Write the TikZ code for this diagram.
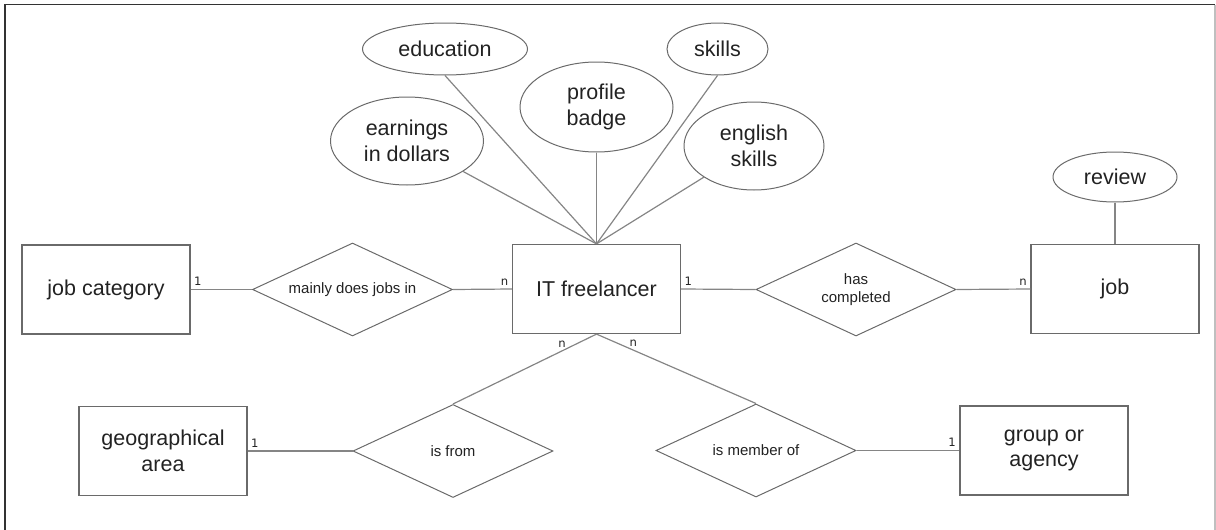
\documentclass[tikz,border=0pt]{standalone}
\usepackage{fontspec}
\setmainfont{Liberation Sans}
\newfontfamily\cardfont{DejaVu Sans}
\usetikzlibrary{shapes.geometric}
\definecolor{edge}{HTML}{6A6A6A}
\definecolor{wire}{HTML}{858585}
\definecolor{ink}{HTML}{222222}
\begin{document}
\begin{tikzpicture}[
  x=0.5pt, y=-0.5pt,
  entity/.style={draw=edge, line width=0.6pt, rectangle, minimum width=84pt, minimum height=44.5pt, align=center, text=ink, font=\fontsize{10.75}{12.9}\selectfont},
  relation/.style={draw=edge, line width=0.5pt, diamond, aspect=2.15, minimum width=100pt, minimum height=46.5pt, inner sep=1pt, align=center, text=ink, font=\fontsize{7.5}{9}\selectfont},
  attr/.style={draw=edge, line width=0.5pt, ellipse, inner sep=1pt, align=center, text=ink, font=\fontsize{10.75}{12.9}\selectfont},
  conn/.style={draw=wire, line width=0.6pt},
  card/.style={text=ink, inner sep=1.5pt, font=\cardfont\fontsize{5.8}{7}\selectfont}
]
\useasboundingbox (0,0) rectangle (1216,530);
\draw[line width=0.8pt, draw=black!80] (5,530) -- (5,4.5) -- (1215,4.5);
\draw[line width=0.6pt, draw=black!25] (1215,4.5) -- (1215,530);

\node[entity] (jobcat) at (106,289.5) {job category};
\node[entity] (free) at (596.5,289) {IT freelancer};
\node[entity] (job) at (1115,289) {job};
\node[entity] (geo) at (163,451) {geographical\\area};
\node[entity] (group) at (1044,450.5) {group or\\agency};

\node[relation] (mainly) at (352.5,289.5) {mainly does jobs in};
\node[relation] (hascomp) at (856,289.5) {has\\completed};
\node[relation] (isfrom) at (453,451) {is from};
\node[relation] (member) at (756,450.5) {is member of};

\node[attr, minimum width=82.5pt, minimum height=26pt] (edu) at (445,49) {education};
\node[attr, minimum width=50.5pt, minimum height=26pt] (skills) at (717.5,49) {skills};
\node[attr, minimum width=76.5pt, minimum height=45pt] (badge) at (596.5,107) {profile\\badge};
\node[attr, minimum width=76.5pt, minimum height=44pt] (earn) at (407,141) {earnings\\in dollars};
\node[attr, minimum width=70pt, minimum height=44pt] (english) at (754,146) {english\\skills};
\node[attr, minimum width=62pt, minimum height=25pt] (review) at (1115,177) {review};

\foreach \a in {edu.south, skills.south, badge.south, earn, english}
  \draw[conn] (\a) -- (free.north);
\draw[conn] (review.south) -- (job.north);

\draw[conn] (jobcat.east) -- node[card, pos=0, anchor=south west] {1} (mainly.west);
\draw[conn] (mainly.east) -- node[card, pos=1, anchor=south east] {n} (free.west);
\draw[conn] (free.east) -- node[card, pos=0, anchor=south west] {1} (hascomp.west);
\draw[conn] (hascomp.east) -- node[card, pos=1, anchor=south east] {n} (job.west);
\draw[conn] (geo.east) -- node[card, pos=0, anchor=south west] {1} (isfrom.west);
\draw[conn] (member.east) -- node[card, pos=1, anchor=south east] {1} (group.west);
\draw[conn] (free.south) -- node[card, pos=0.24, above] {n} (isfrom.north);
\draw[conn] (free.south) -- node[card, pos=0.23, above] {n} (member.north);
\end{tikzpicture}
\end{document}
